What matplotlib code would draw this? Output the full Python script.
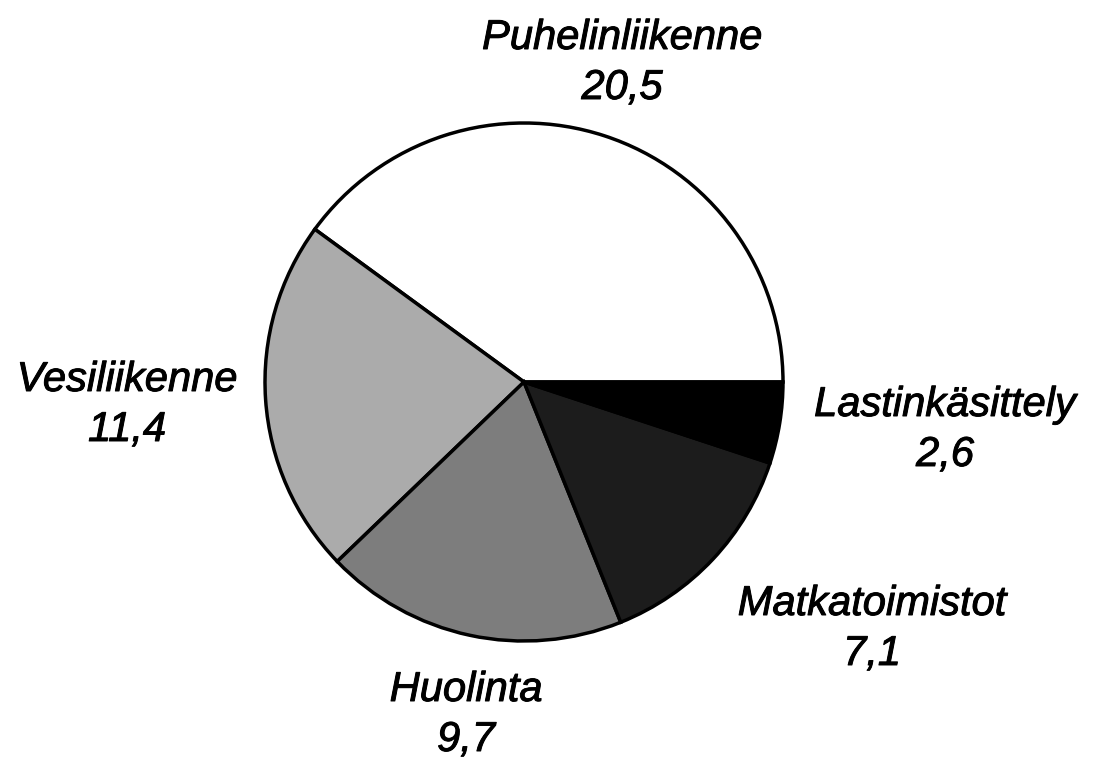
import matplotlib.pyplot as plt
import matplotlib.patheffects as pe

labels = ['Puhelinliikenne', 'Vesiliikenne', 'Huolinta', 'Matkatoimistot', 'Lastinkäsittely']
values = [20.5, 11.4, 9.7, 7.1, 2.6]
value_text = ['20,5', '11,4', '9,7', '7,1', '2,6']
colors = ['#ffffff', '#ababab', '#7d7d7d', '#1c1c1c', '#000000']

# label centres in pixels (x, y of the name line)
label_px = [(622, 38), (127, 380), (466, 690), (872, 604), (945, 405)]

W, H = 1093, 759
cx, cy, r = 524, 382, 259

fig = plt.figure(figsize=(W / 100, H / 100), dpi=100)
ax = fig.add_axes([0, 0, 1, 1])
ax.pie(values, colors=colors, startangle=0, counterclock=True, radius=1,
       wedgeprops=dict(edgecolor='black', linewidth=2.5))
ax.set_xlim(-cx / r, (W - cx) / r)
ax.set_ylim((cy - H) / r, cy / r)
ax.set_aspect('equal')
ax.axis('off')

thick = [pe.withStroke(linewidth=0.7, foreground='black')]
for name, val, (px, py) in zip(labels, value_text, label_px):
    x = (px - cx) / r
    y = (cy - py) / r
    ax.text(x, y, name, ha='center', va='center', fontsize=30,
            style='italic', family='Liberation Sans', path_effects=thick)
    ax.text(x, y - 50 / r, val, ha='center', va='center', fontsize=30,
            style='italic', family='Liberation Sans', path_effects=thick)

fig.savefig('out.png', dpi=100)
